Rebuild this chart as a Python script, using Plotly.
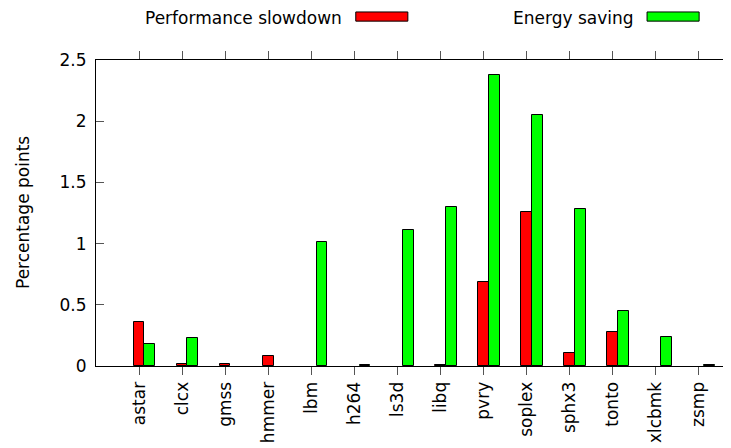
import plotly.graph_objects as go

benchmarks = ["astar", "clcx", "gmss", "hmmer", "lbm", "h264", "ls3d",
              "libq", "pvry", "soplex", "sphx3", "tonto", "xlcbmk", "zsmp"]
slowdown = [0.36, 0.02, 0.02, 0.08, 0.0, 0.0, 0.0,
            0.01, 0.69, 1.26, 0.11, 0.28, 0.0, 0.0]
energy = [0.18, 0.23, 0.0, 0.0, 1.01, 0.01, 1.11,
          1.30, 2.38, 2.05, 1.28, 0.45, 0.24, 0.01]

FONT = "DejaVu Sans"
FSIZE = 17
RED = "#ff0000"
GREEN = "#00ff00"

xs = list(range(len(benchmarks)))


def nonzero(vals):
    # gnuplot draws nothing for a zero bar
    return [v if v > 0 else None for v in vals]


fig = go.Figure()
fig.add_trace(go.Bar(x=xs, y=nonzero(slowdown), width=0.255, offset=-0.128,
                     marker=dict(color=RED, line=dict(color="black", width=1)),
                     name="Performance slowdown"))
fig.add_trace(go.Bar(x=xs, y=nonzero(energy), width=0.255, offset=0.127,
                     marker=dict(color=GREEN, line=dict(color="black", width=1)),
                     name="Energy saving"))

# gnuplot-style key: text followed by a colour swatch
legend = [("Performance slowdown", RED, 0.386, 0.404, 0.485),
          ("Energy saving", GREEN, 0.840, 0.857, 0.938)]
for label, color, tx, x0, x1 in legend:
    fig.add_annotation(text=label, xref="paper", yref="paper", x=tx, y=1.137,
                       xanchor="right", yanchor="middle", showarrow=False,
                       font=dict(family=FONT, size=FSIZE, color="black"))
    fig.add_shape(type="rect", xref="paper", yref="paper", x0=x0, x1=x1,
                  y0=1.127, y1=1.157, fillcolor=color,
                  line=dict(color="black", width=1))

fig.add_annotation(text="Percentage points", xref="paper", yref="paper",
                   x=-0.1135, y=0.5, textangle=-90, showarrow=False,
                   xanchor="center", yanchor="middle",
                   font=dict(family=FONT, size=FSIZE, color="black"))

# page body has an 8px margin, so the figure is offset by that much
fig.update_layout(
    width=731, height=448,
    margin=dict(l=88, r=0, t=52, b=90),
    plot_bgcolor="white", paper_bgcolor="white",
    showlegend=False,
    font=dict(family=FONT, size=FSIZE, color="black"),
    bargap=0,
)
fig.update_xaxes(
    range=[-1, 13.95], tickvals=xs, ticktext=benchmarks, tickangle=-90,
    tickfont=dict(family=FONT, size=FSIZE, color="black"), automargin=False,
    showgrid=False, zeroline=False, showline=True, linecolor="black", linewidth=1,
    mirror="ticks", ticks="outside", ticklen=8, tickcolor="#555555",
)
fig.update_yaxes(
    range=[0, 2.5], dtick=0.5, showgrid=False, zeroline=False,
    tickfont=dict(family=FONT, size=FSIZE, color="black"), automargin=False,
    showline=True, linecolor="black", linewidth=1, mirror=False,
    ticks="inside", ticklen=8, tickcolor="#555555", ticklabelstandoff=5,
)

fig.write_html("out.html")
